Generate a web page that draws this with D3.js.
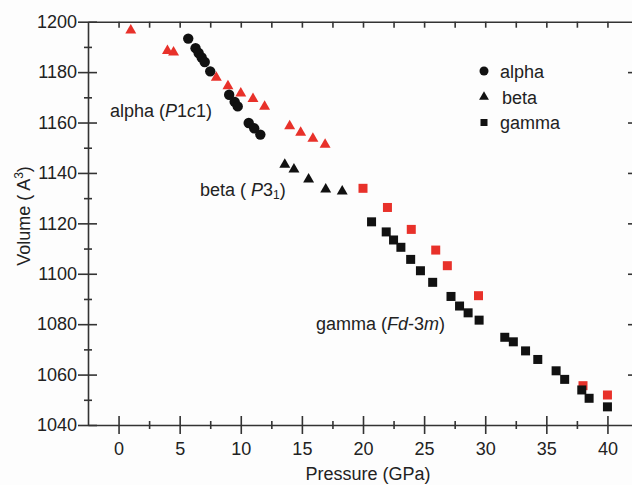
<!DOCTYPE html>
<html>
<head>
<meta charset="utf-8">
<script src="https://cdn.jsdelivr.net/npm/d3@7"></script>
<style>
  body { margin: 0; background: #fff; }
  svg { font-family: "Liberation Sans", Arial, sans-serif; }
</style>
</head>
<body>
<div id="chart"></div>
<script>
// pressure (GPa) / volume (A^3)
const alphaP = [5.7, 6.3, 6.55, 6.8, 7.05, 7.5, 9.05, 9.5, 9.75, 10.65, 11.1, 11.6];
const alphaV = [1193.3, 1189.5, 1187.6, 1185.8, 1184, 1180.3, 1171, 1168.2, 1166.4, 1159.8, 1157.7, 1155.2];

const alphaRedP = [1.0, 4.0, 4.5, 8.0, 8.95, 10.0, 11.0, 11.95, 14.0, 14.9, 15.9, 16.9];
const alphaRedV = [1197, 1188.8, 1188.2, 1178.2, 1174.9, 1172, 1169.8, 1166.7, 1159, 1156.4, 1154, 1151.6];

const betaP = [13.6, 14.35, 15.55, 16.95, 18.3];
const betaV = [1143.7, 1141.8, 1137.9, 1133.9, 1133.1];

const gammaP = [20.7, 21.9, 22.5, 23.1, 23.9, 24.7, 25.7, 27.2, 27.9, 28.6, 29.5,
  31.6, 32.3, 33.3, 34.3, 35.8, 36.5, 37.9, 38.5, 40.0];
const gammaV = [1120.6, 1116.6, 1113.4, 1110.5, 1105.7, 1101.2, 1096.6, 1091, 1087.2, 1084.5, 1081.6,
  1074.8, 1073, 1069.4, 1066, 1061.5, 1058.1, 1053.9, 1050.6, 1047.2];

const gammaRedP = [20.0, 22.0, 23.95, 25.95, 26.9, 29.45, 38.0, 40.0];
const gammaRedV = [1133.9, 1126.3, 1117.6, 1109.4, 1103.2, 1091.3, 1055.6, 1051.9];

const xMajor = [0, 5, 10, 15, 20, 25, 30, 35, 40];
const xMinor = [2.5, 7.5, 12.5, 17.5, 22.5, 27.5, 32.5, 37.5];
const yMajor = [1040, 1060, 1080, 1100, 1120, 1140, 1160, 1180, 1200];
const yMinor = [1050, 1070, 1090, 1110, 1130, 1150, 1170, 1190];

const red = "#e8312a",
  ink = "#111",
  axisColor = "#333";

const width = 632,
  height = 485;

const svg = d3
  .select("#chart")
  .append("svg")
  .attr("width", width)
  .attr("height", height);

svg.append("rect").attr("width", width).attr("height", height).attr("fill", "#fdfdfd");

const x = d3.scaleLinear().domain([-2.5, 42.5]).range([88, 638]);
const y = d3.scaleLinear().domain([1040, 1200]).range([425, 21.7]);

const zip = (a, b) => a.map((d, i) => [d, b[i]]);

// axes: ticks cross the line on bottom / left
function styleAxis(g) {
  g.selectAll("path, line").attr("stroke", axisColor).attr("stroke-width", 1.6);
  g.selectAll("text")
    .attr("fill", "#222")
    .style("font-size", "18px")
    .style("font-family", '"Liberation Sans", Arial, sans-serif');
}

const xAxisBottom = svg
  .append("g")
  .attr("transform", `translate(0, ${y(1040)})`)
  .call(d3.axisBottom(x).tickValues(xMajor).tickSize(9).tickSizeOuter(0).tickPadding(6));
xAxisBottom.selectAll(".tick line").attr("y1", -9);
xAxisBottom.selectAll(".tick text").attr("dy", "0.85em");
styleAxis(xAxisBottom);

const xMinorBottom = svg
  .append("g")
  .attr("transform", `translate(0, ${y(1040)})`)
  .call(d3.axisBottom(x).tickValues(xMinor).tickSize(4).tickFormat(""));
xMinorBottom.select(".domain").remove();
xMinorBottom.selectAll(".tick line").attr("y1", -4);
styleAxis(xMinorBottom);

const yAxisLeft = svg
  .append("g")
  .attr("transform", `translate(${x(-2.5)}, 0)`)
  .call(d3.axisLeft(y).tickValues(yMajor).tickSize(10).tickSizeOuter(0).tickPadding(1).tickFormat(d3.format("d")));
yAxisLeft.selectAll(".tick line").attr("x1", 9);
styleAxis(yAxisLeft);

const yMinorLeft = svg
  .append("g")
  .attr("transform", `translate(${x(-2.5)}, 0)`)
  .call(d3.axisLeft(y).tickValues(yMinor).tickSize(4).tickFormat(""));
yMinorLeft.select(".domain").remove();
yMinorLeft.selectAll(".tick line").attr("x1", 4);
styleAxis(yMinorLeft);

const xAxisTop = svg
  .append("g")
  .attr("transform", `translate(0, ${y(1200)})`)
  .call(d3.axisBottom(x).tickValues(xMajor.concat(xMinor)).tickSize(6).tickSizeOuter(0).tickFormat(""));
styleAxis(xAxisTop);

const yAxisRight = svg
  .append("g")
  .attr("transform", `translate(${x(42.5)}, 0)`)
  .call(d3.axisLeft(y).tickValues(yMajor.slice(1, -1)).tickSize(10).tickSizeOuter(0).tickFormat(""));
styleAxis(yAxisRight);

// axis titles
svg
  .append("text")
  .attr("x", 368)
  .attr("y", 480)
  .attr("text-anchor", "middle")
  .attr("fill", "#222")
  .style("font-size", "18px")
  .text("Pressure (GPa)");

const yTitle = svg
  .append("text")
  .attr("transform", "translate(30, 216) rotate(-90)")
  .attr("text-anchor", "middle")
  .attr("fill", "#222")
  .style("font-size", "18px");
yTitle.append("tspan").text("Volume ( A");
yTitle.append("tspan").attr("dy", -7).style("font-size", "12px").text("3");
yTitle.append("tspan").attr("dy", 7).text(")");

// markers
const tri = d3.symbol().type(d3.symbolTriangle);

function circles(data, color, r) {
  svg
    .append("g")
    .selectAll("circle")
    .data(data)
    .join("circle")
    .attr("cx", (d) => x(d[0]))
    .attr("cy", (d) => y(d[1]))
    .attr("r", r)
    .attr("fill", color);
}

function triangles(data, color, size) {
  svg
    .append("g")
    .selectAll("path")
    .data(data)
    .join("path")
    .attr("transform", (d) => `translate(${x(d[0])}, ${y(d[1]) + 1})`)
    .attr("d", tri.size(size)())
    .attr("fill", color);
}

function squares(data, color, s) {
  svg
    .append("g")
    .selectAll("rect")
    .data(data)
    .join("rect")
    .attr("x", (d) => x(d[0]) - s / 2)
    .attr("y", (d) => y(d[1]) - s / 2)
    .attr("width", s)
    .attr("height", s)
    .attr("fill", color);
}

triangles(zip(alphaRedP, alphaRedV), red, 52);
circles(zip(alphaP, alphaV), ink, 5.2);
triangles(zip(betaP, betaV), ink, 52);
squares(zip(gammaRedP, gammaRedV), red, 9);
squares(zip(gammaP, gammaV), ink, 9);

// legend
const legend = svg.append("g").style("font-size", "18px").attr("fill", "#222");
legend.append("circle").attr("cx", 484).attr("cy", 71).attr("r", 4.5).attr("fill", ink);
legend
  .append("path")
  .attr("transform", "translate(484, 97)")
  .attr("d", tri.size(42)())
  .attr("fill", ink);
legend.append("rect").attr("x", 480.5).attr("y", 119).attr("width", 7).attr("height", 7).attr("fill", ink);
legend.append("text").attr("x", 500).attr("y", 78).text("alpha");
legend.append("text").attr("x", 502).attr("y", 104).text("beta");
legend.append("text").attr("x", 500).attr("y", 129).text("gamma");

// phase labels
function label(xp, yp, parts) {
  const t = svg
    .append("text")
    .attr("x", xp)
    .attr("y", yp)
    .attr("fill", "#222")
    .style("font-size", "18px");
  parts.forEach((p) => {
    const s = t.append("tspan").text(p[0]);
    if (p[1] === "i") s.style("font-style", "italic");
    if (p[1] === "sub") s.style("font-size", "12px").attr("dy", 3);
    if (p[1] === "up") s.attr("dy", -3);
  });
}

label(110, 117, [["alpha ("], ["P", "i"], ["1"], ["c", "i"], ["1)"]]);
label(200, 196, [["beta ( "], ["P", "i"], ["3"], ["1", "sub"], [")", "up"]]);
label(316, 330, [["gamma ("], ["Fd", "i"], ["-3"], ["m", "i"], [")"]]);
</script>
</body>
</html>
